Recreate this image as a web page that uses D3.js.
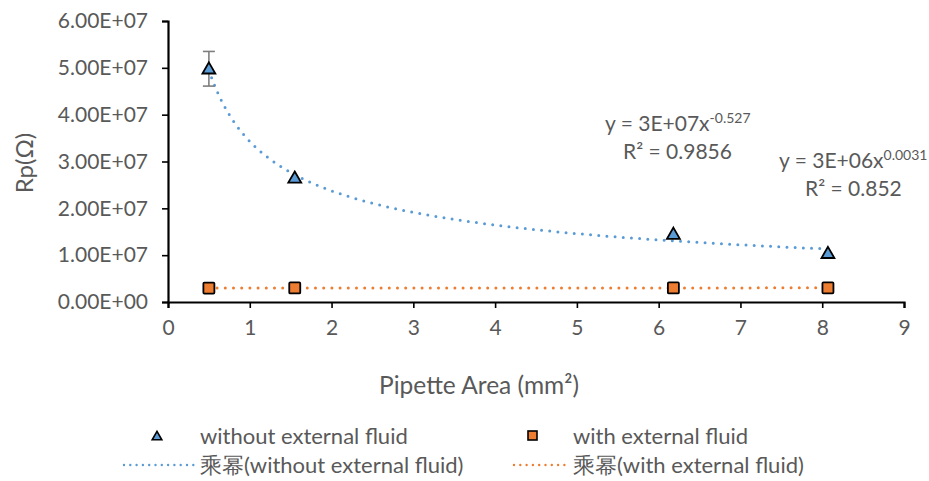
<!DOCTYPE html>
<html>
<head>
<meta charset="utf-8">
<script src="https://cdn.jsdelivr.net/npm/d3@7"></script>
<style>
  body { margin: 0; background: #fff; }
  text { font-family: Lato, "Noto Sans", sans-serif; fill: #595959; }
</style>
</head>
<body>
<svg id="chart" width="929" height="481"></svg>
<script>
// Data
const areaWithout = [0.50, 1.55, 6.18, 8.07];
const rpWithout = [4.98e7, 2.65e7, 1.45e7, 1.04e7];
const errWithout = [3.7e6, 0, 0, 0];
const areaWith = [0.50, 1.55, 6.18, 8.07];
const rpWith = [2.98e6, 3.0e6, 3.01e6, 3.02e6];
const xTicks = [0, 1, 2, 3, 4, 5, 6, 7, 8, 9];
const yTicks = [0, 1e7, 2e7, 3e7, 4e7, 5e7, 6e7];

const blue = "#5B9BD5", orange = "#ED7D31";
const svg = d3.select("#chart");

const x = d3.scaleLinear().domain([0, 9]).range([168, 904]);
const y = d3.scaleLinear().domain([0, 6e7]).range([302, 21]);

// power fit y = a x^b via log-log regression
function powerFit(xs, ys) {
  const lx = xs.map(Math.log), ly = ys.map(Math.log);
  const mx = d3.mean(lx), my = d3.mean(ly);
  let sxy = 0, sxx = 0;
  lx.forEach((v, i) => { sxy += (v - mx) * (ly[i] - my); sxx += (v - mx) * (v - mx); });
  const b = sxy / sxx;
  return { a: Math.exp(my - b * mx), b: b };
}

function trendPath(xs, ys) {
  const f = powerFit(xs, ys);
  const lo = d3.min(xs), hi = d3.max(xs);
  const pts = d3.range(0, 201).map(i => lo + (hi - lo) * i / 200);
  return d3.line().x(d => x(d)).y(d => y(f.a * Math.pow(d, f.b)))(pts);
}

// axes
const xAxis = svg.append("g")
  .attr("transform", `translate(0,${y(0)})`)
  .call(d3.axisBottom(x).tickValues(xTicks).tickSize(6).tickPadding(9).tickFormat(d3.format("d")));
const yAxis = svg.append("g")
  .attr("transform", `translate(${x(0)},0)`)
  .call(d3.axisLeft(y).tickValues(yTicks).tickSize(6).tickPadding(14)
    .tickFormat(d => d3.format(".2e")(d).toUpperCase().replace(/E([+-])(\d)$/, "E$10$2")));
[xAxis, yAxis].forEach(g => {
  g.select(".domain").attr("stroke", "#000").attr("stroke-width", 2.2);
  g.selectAll(".tick line").attr("stroke", "#000").attr("stroke-width", 1.6);
  g.selectAll(".tick text").style("font-size", "21px").attr("fill", "#595959");
});
xAxis.selectAll(".tick text").attr("dy", "0.85em");

// trendlines
svg.append("path").attr("d", trendPath(areaWithout, rpWithout))
  .attr("fill", "none").attr("stroke", blue).attr("stroke-width", 3)
  .attr("stroke-linecap", "round").attr("stroke-dasharray", "0 8.2");
svg.append("path").attr("d", trendPath(areaWith, rpWith))
  .attr("fill", "none").attr("stroke", orange).attr("stroke-width", 3)
  .attr("stroke-linecap", "round").attr("stroke-dasharray", "0 8.2");

// error bars
const eb = svg.append("g").attr("stroke", "#7f7f7f").attr("stroke-width", 1.6);
areaWithout.forEach((a, i) => {
  if (!errWithout[i]) return;
  const cx = x(a), t = y(rpWithout[i] + errWithout[i]), b = y(rpWithout[i] - errWithout[i]);
  eb.append("line").attr("x1", cx).attr("x2", cx).attr("y1", t).attr("y2", b);
  eb.append("line").attr("x1", cx - 6).attr("x2", cx + 6).attr("y1", t).attr("y2", t);
  eb.append("line").attr("x1", cx - 6).attr("x2", cx + 6).attr("y1", b).attr("y2", b);
});

const tri = d3.symbol().type(d3.symbolTriangle).size(72);
svg.selectAll(".tri").data(areaWithout).join("path")
  .attr("transform", (d, i) => `translate(${x(d)},${y(rpWithout[i]) + 1})`)
  .attr("d", tri).attr("fill", blue).attr("stroke", "#000").attr("stroke-width", 1.8);

svg.selectAll(".sq").data(areaWith).join("rect")
  .attr("x", d => x(d) - 5.5).attr("y", (d, i) => y(rpWith[i]) - 5.5)
  .attr("width", 11).attr("height", 11).attr("rx", 1)
  .attr("fill", orange).attr("stroke", "#000").attr("stroke-width", 1.8);

// equations
function equation(px, py, coef, exp, r2, r2x) {
  const t = svg.append("text").attr("x", px).attr("y", py).style("font-size", "21px");
  t.append("tspan").text("y = " + coef + "x");
  t.append("tspan").attr("dy", -8).style("font-size", "14px").text(exp);
  svg.append("text").attr("x", r2x).attr("y", py + 28).style("font-size", "21px").text("R² = " + r2);
}
equation(605, 131, "3E+07", "-0.527", "0.9856", 623);
equation(779, 168, "3E+06", "0.0031", "0.852", 805);

// axis titles
svg.append("text").attr("x", 479).attr("y", 394).attr("text-anchor", "middle")
  .style("font-size", "24.5px").text("Pipette Area (mm²)");
svg.append("text").attr("transform", "translate(33,163) rotate(-90)").attr("text-anchor", "middle")
  .style("font-size", "24px").text("Rp(Ω)");

// legend
const lg = svg.append("g").style("font-size", "22px");
lg.append("path").attr("transform", "translate(157,437)").attr("d", d3.symbol().type(d3.symbolTriangle).size(40))
  .attr("fill", blue).attr("stroke", "#000").attr("stroke-width", 1.6);
lg.append("text").attr("x", 200).attr("y", 444).text("without external fluid");
lg.append("rect").attr("x", 528).attr("y", 431).attr("width", 9).attr("height", 9)
  .attr("fill", orange).attr("stroke", "#000").attr("stroke-width", 1.6);
lg.append("text").attr("x", 573).attr("y", 444).text("with external fluid");
lg.append("line").attr("x1", 124).attr("x2", 194).attr("y1", 465).attr("y2", 465)
  .attr("stroke", blue).attr("stroke-width", 2.4).attr("stroke-linecap", "round").attr("stroke-dasharray", "0 6.3");
lg.append("text").attr("x", 200).attr("y", 473).text("乘幂(without external fluid)");
lg.append("line").attr("x1", 514).attr("x2", 568).attr("y1", 465).attr("y2", 465)
  .attr("stroke", orange).attr("stroke-width", 2.4).attr("stroke-linecap", "round").attr("stroke-dasharray", "0 6.3");
lg.append("text").attr("x", 573).attr("y", 473).text("乘幂(with external fluid)");
</script>
</body>
</html>
